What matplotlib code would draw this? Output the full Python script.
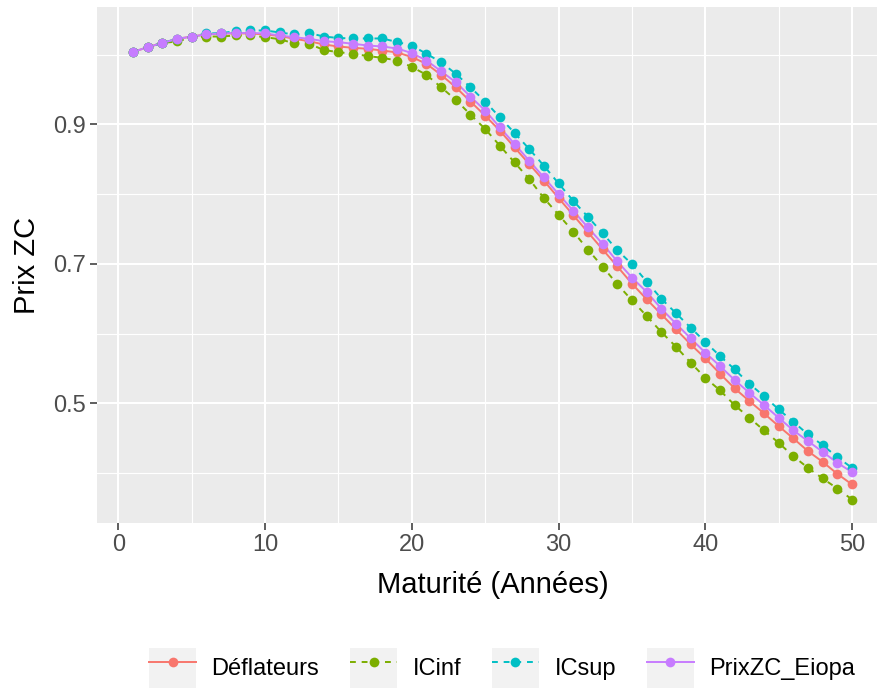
import numpy as np
import matplotlib
matplotlib.use("Agg")
import matplotlib.pyplot as plt
from matplotlib.lines import Line2D
from matplotlib.patches import Rectangle
from matplotlib.ticker import MultipleLocator

plt.rcParams["font.family"] = ["Liberation Sans", "DejaVu Sans"]

# ---- data ----
maturite = np.arange(1, 51)

deflateurs = [1.0039, 1.0108, 1.0168, 1.0226, 1.0261, 1.0290, 1.0305, 1.0305, 1.0305, 1.0290,
              1.0269, 1.0228, 1.0194, 1.0147, 1.0118, 1.0099, 1.0085, 1.0060, 1.0032, 0.9967,
              0.9869, 0.9711, 0.9533, 0.9328, 0.9126, 0.8911, 0.8671, 0.8432, 0.8193, 0.7944,
              0.7700, 0.7453, 0.7208, 0.6964, 0.6717, 0.6493, 0.6277, 0.6062, 0.5846, 0.5645,
              0.5424, 0.5214, 0.5032, 0.4855, 0.4672, 0.4496, 0.4313, 0.4159, 0.3987, 0.3835]

icinf = [1.0039, 1.0108, 1.0168, 1.0190, 1.0247, 1.0261, 1.0261, 1.0276, 1.0276, 1.0251,
         1.0223, 1.0161, 1.0157, 1.0068, 1.0036, 1.0013, 0.9981, 0.9955, 0.9917, 0.9826,
         0.9711, 0.9533, 0.9352, 0.9141, 0.8935, 0.8695, 0.8455, 0.8217, 0.7944, 0.7704,
         0.7464, 0.7204, 0.6961, 0.6708, 0.6478, 0.6253, 0.6023, 0.5812, 0.5582, 0.5366,
         0.5185, 0.4974, 0.4792, 0.4611, 0.4432, 0.4241, 0.4073, 0.3921, 0.3777, 0.3619]

icsup = [1.0039, 1.0108, 1.0168, 1.0228, 1.0261, 1.0305, 1.0309, 1.0338, 1.0348, 1.0348,
         1.0319, 1.0290, 1.0312, 1.0261, 1.0240, 1.0233, 1.0233, 1.0233, 1.0182, 1.0132,
         1.0013, 0.9892, 0.9726, 0.9533, 0.9328, 0.9102, 0.8878, 0.8648, 0.8408, 0.8154,
         0.7905, 0.7675, 0.7441, 0.7197, 0.6996, 0.6746, 0.6501, 0.6292, 0.6085, 0.5879,
         0.5678, 0.5487, 0.5280, 0.5103, 0.4912, 0.4734, 0.4553, 0.4399, 0.4227, 0.4073]

prixzc_eiopa = [1.0039, 1.0108, 1.0168, 1.0226, 1.0261, 1.0290, 1.0305, 1.0312, 1.0312, 1.0305,
                1.0276, 1.0251, 1.0228, 1.0194, 1.0180, 1.0157, 1.0132, 1.0118, 1.0089, 1.0024,
                0.9917, 0.9763, 0.9605, 0.9399, 0.9198, 0.8958, 0.8720, 0.8480, 0.8240, 0.8001,
                0.7761, 0.7522, 0.7287, 0.7036, 0.6803, 0.6598, 0.6358, 0.6142, 0.5932, 0.5726,
                0.5534, 0.5333, 0.5151, 0.4974, 0.4792, 0.4611, 0.4457, 0.4303, 0.4145, 0.4012]

series_names = ["Déflateurs", "ICinf", "ICsup", "PrixZC_Eiopa"]
series_values = [deflateurs, icinf, icsup, prixzc_eiopa]
colors = ["#F8766D", "#7CAE00", "#00BFC4", "#C77CFF"]
styles = ["-", (0, (3, 3)), (0, (3, 3)), "-"]

PANEL_BG = "#EBEBEB"
TICK_TXT = "#4D4D4D"
LW, MS = 1.4, 7.0

W, H = 877, 693
fig = plt.figure(figsize=(W / 100, H / 100), dpi=100)
# panel runs a little past the right border, as in the reference
ax = fig.add_axes([97 / W, 1 - 523 / H, 791 / W, 516 / H])
ax.set_facecolor(PANEL_BG)
for s in ax.spines.values():
    s.set_visible(False)

# lines first, then points (ggplot layer order)
for vals, c, ls in zip(series_values, colors, styles):
    ax.plot(maturite, vals, color=c, linestyle=ls, linewidth=LW, zorder=3)
for vals, c in zip(series_values, colors):
    ax.plot(maturite, vals, linestyle="none", marker="o", markersize=MS,
            color=c, markeredgewidth=0, zorder=4)

allv = np.concatenate([np.asarray(v) for v in series_values])
pad_y = (allv.max() - allv.min()) * 0.05
ax.set_ylim(allv.min() - pad_y, allv.max() + pad_y)
pad_x = (maturite.max() - maturite.min()) * 0.05
ax.set_xlim(maturite.min() - pad_x, maturite.max() + pad_x)

ax.xaxis.set_major_locator(MultipleLocator(10))
ax.xaxis.set_minor_locator(MultipleLocator(5))
ax.set_yticks([0.5, 0.7, 0.9])
ax.set_yticks([0.4, 0.6, 0.8, 1.0], minor=True)
ax.set_yticklabels(["0.5", "0.7", "0.9"])

ax.grid(which="major", color="white", linewidth=1.5, zorder=0)
ax.grid(which="minor", color="white", linewidth=0.8, zorder=0)
ax.set_axisbelow(True)

ax.tick_params(which="major", length=5, width=1.1, color="#333333",
               labelsize=17, labelcolor=TICK_TXT, pad=3)
ax.tick_params(which="minor", length=0)

ax.set_xlabel("Maturité (Années)", fontsize=21)
ax.set_ylabel("Prix ZC", fontsize=21)
ax.xaxis.set_label_coords(0.5, (523 - 585) / 516)
ax.xaxis.label.set_va("center")
ax.yaxis.set_label_coords((27 - 97) / 791, 0.5)
ax.yaxis.label.set_va("center")

# legend with grey key boxes
handles = []
for c, ls in zip(colors, styles):
    box = Rectangle((0, 0), 1, 1, facecolor="#F2F2F2", edgecolor="none")
    ln = Line2D([], [], color=c, linestyle=ls, linewidth=LW,
                marker="o", markersize=MS, markeredgewidth=0)
    handles.append((box, ln))
fig.legend(handles, series_names, loc="center", bbox_to_anchor=(502 / W, 1 - 668 / H),
           ncol=4, frameon=False, fontsize=17, handlelength=2.0, handleheight=2.2,
           handletextpad=0.65, columnspacing=1.3, borderpad=0)

fig.savefig("out.png", dpi=100)
